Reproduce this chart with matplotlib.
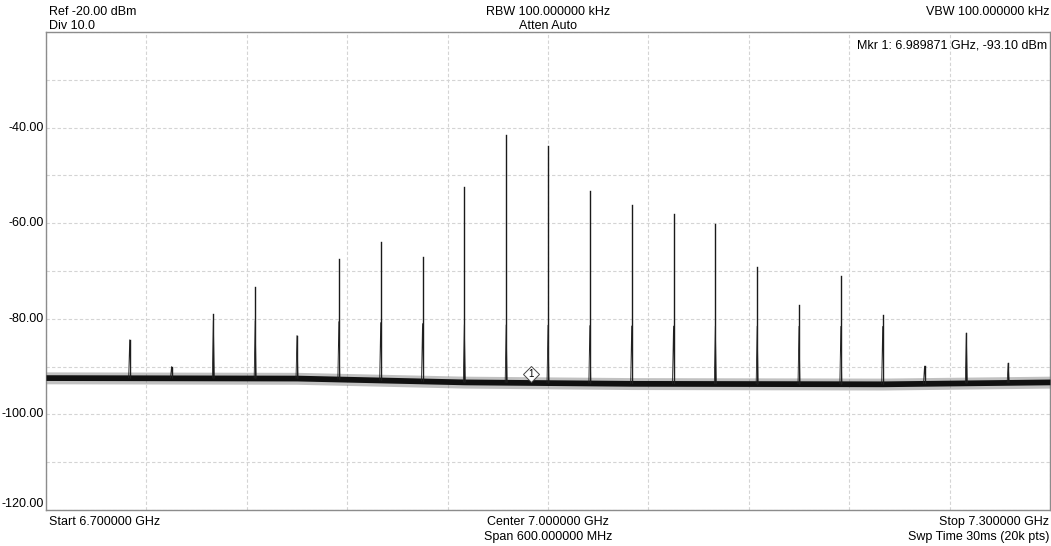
import numpy as np
import matplotlib
matplotlib.use('Agg')
import matplotlib.pyplot as plt

plt.rcParams['font.family'] = ['Liberation Sans', 'DejaVu Sans']

# spur frequencies (GHz) and peak levels (dBm)
peak_freq = [6.750, 6.775, 6.800, 6.825, 6.850, 6.875, 6.900, 6.925, 6.950, 6.975, 7.000,
             7.025, 7.050, 7.075, 7.100, 7.125, 7.150, 7.175, 7.200, 7.225, 7.250, 7.275]
peak_level = [-84.4, -90.0, -79.1, -73.3, -83.5, -67.5, -64.0, -67.1, -52.5, -41.5, -43.9,
              -53.3, -56.2, -58.1, -60.1, -69.1, -77.1, -71.1, -79.3, -89.9, -83.0, -89.3]

# noise floor anchors (GHz, dBm)
floor_freq = [6.700, 6.850, 6.950, 7.050, 7.200, 7.300]
floor_level = [-92.3, -92.4, -93.2, -93.5, -93.6, -93.2]

marker_freq = 6.989871
marker_level = -93.10

fig = plt.figure(figsize=(10.51, 5.46), dpi=100)
ax = fig.add_axes([46 / 1051, 36 / 546, 1004 / 1051, 478 / 546])

ax.set_xlim(6.7, 7.3)
ax.set_ylim(-120, -20)

# grid
ax.set_xticks(np.linspace(6.7, 7.3, 11))
ax.set_yticks(np.arange(-120, -19, 10))
ax.grid(True, color='#d4d4d4', linestyle=(0, (3, 2)), linewidth=0.8)
ax.tick_params(length=0, labelbottom=False, labelleft=False)
for s in ax.spines.values():
    s.set_color('#8c8c8c')
    s.set_linewidth(1.0)

# y labels every 20 dB
for v in [-40, -60, -80, -100, -120]:
    ax.text(-0.002, (v + 120) / 100, '%.2f' % v, transform=ax.transAxes,
            ha='right', va='bottom' if v == -120 else 'center', fontsize=9)

# noise floor band
lv = np.array(floor_level)
ax.fill_between(floor_freq, lv - 1.3, lv + 1.2, color='#777777', alpha=0.45, lw=0, zorder=3)
ax.fill_between(floor_freq, lv - 0.6, lv + 0.6, color='#111111', lw=0, zorder=3)

# spurs
fl = np.interp(peak_freq, floor_freq, floor_level)
for f, p, b in zip(peak_freq, peak_level, fl):
    ax.plot([f, f], [b, p], color='#1a1a1a', lw=1.0, zorder=4)
    ax.plot([f - 0.0006, f, f + 0.0006], [b, min(p, b + 12), b],
            color='#222222', lw=0.6, zorder=4)

# marker
ax.plot([marker_freq], [marker_level + 1.6], marker='D', ms=8, mfc='white',
        mec='#444444', mew=0.7, zorder=5)
ax.text(marker_freq, marker_level + 1.6, '1', ha='center', va='center',
        fontsize=7, zorder=6)

ax.text(0.997, 0.985, 'Mkr 1: 6.989871 GHz, -93.10 dBm', transform=ax.transAxes,
        ha='right', va='top', fontsize=9)

# header / footer annotations
fs = 9
fig.text(49 / 1051, 1 - 12 / 546, 'Ref -20.00 dBm', ha='left', va='center', fontsize=fs)
fig.text(49 / 1051, 1 - 26 / 546, 'Div 10.0', ha='left', va='center', fontsize=fs)
fig.text(548 / 1051, 1 - 12 / 546, 'RBW 100.000000 kHz', ha='center', va='center', fontsize=fs)
fig.text(548 / 1051, 1 - 26 / 546, 'Atten Auto', ha='center', va='center', fontsize=fs)
fig.text(1049 / 1051, 1 - 12 / 546, 'VBW 100.000000 kHz', ha='right', va='center', fontsize=fs)

fig.text(49 / 1051, 1 - 522 / 546, 'Start 6.700000 GHz', ha='left', va='center', fontsize=fs)
fig.text(548 / 1051, 1 - 522 / 546, 'Center 7.000000 GHz', ha='center', va='center', fontsize=fs)
fig.text(548 / 1051, 1 - 537 / 546, 'Span 600.000000 MHz', ha='center', va='center', fontsize=fs)
fig.text(1049 / 1051, 1 - 522 / 546, 'Stop 7.300000 GHz', ha='right', va='center', fontsize=fs)
fig.text(1049 / 1051, 1 - 537 / 546, 'Swp Time 30ms (20k pts)', ha='right', va='center', fontsize=fs)

fig.savefig('out.png', dpi=100)
